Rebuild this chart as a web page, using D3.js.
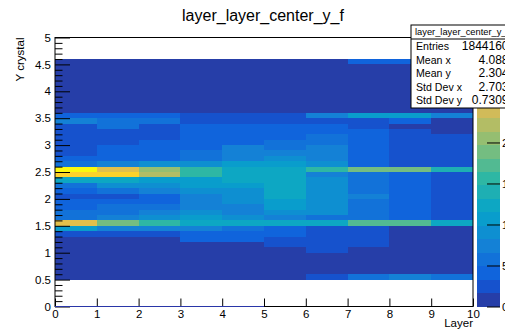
<!DOCTYPE html>
<html>
<head>
<meta charset="utf-8">
<script src="https://cdn.jsdelivr.net/npm/d3@7"></script>
<style>
  html, body { margin: 0; padding: 0; background: #fff; overflow: hidden; }
  svg { display: block; font-family: "Liberation Sans", Arial, Helvetica, sans-serif; }
</style>
</head>
<body>
<svg id="chart" width="505" height="330"></svg>
<script>
// ---- histogram binning ----
const layers = [0, 1, 2, 3, 4, 5, 6, 7, 8, 9];
const yBinLow = [0.5, 0.6, 0.7, 0.8, 0.9, 1.0, 1.1, 1.2, 1.3, 1.4,
                 1.5, 1.6, 1.7, 1.8, 1.9, 2.0, 2.1, 2.2, 2.3, 2.4,
                 2.5, 2.6, 2.7, 2.8, 2.9, 3.0, 3.1, 3.2, 3.3, 3.4,
                 3.5, 3.6, 3.7, 3.8, 3.9, 4.0, 4.1, 4.2, 4.3, 4.4, 4.5];
const yBinWidth = 0.1;

// ---- bin contents per layer, listed from the y = 0.5 bin upward ----
const layer0 = [620, 840, 910, 1030, 1150, 1210, 1290, 1370, 2480, 10650, 25400, 5820, 5630, 4150, 3960, 2700, 4060, 5480, 12200, 28800, 32800, 5650, 4020, 2910, 2640, 2580, 2450, 2520, 2690, 7380, 4230, 1420, 1210, 980, 870, 760, 690, 620, 560, 510, 470];
const layer1 = [700, 880, 960, 1060, 1180, 1250, 1330, 1410, 2550, 7300, 18900, 7450, 5780, 5550, 4300, 3050, 5520, 9050, 12100, 28400, 25300, 7200, 4400, 4180, 3900, 2880, 2620, 2750, 5300, 5600, 4050, 1380, 1190, 990, 880, 790, 710, 650, 580, 530, 480];
const layer2 = [720, 900, 990, 1090, 1200, 1280, 1350, 1430, 2600, 7400, 15700, 9100, 7350, 5650, 4200, 3900, 7250, 9150, 10800, 22200, 20600, 8900, 4350, 4150, 3700, 3500, 2900, 2800, 2700, 5400, 4000, 1350, 1170, 970, 860, 780, 700, 640, 570, 520, 470];
const layer3 = [760, 930, 1020, 1120, 1240, 1310, 1400, 3650, 3900, 7500, 12300, 10900, 9200, 7600, 7450, 7300, 9050, 10700, 10900, 15600, 15500, 9000, 5700, 5500, 4200, 4100, 3950, 3850, 3700, 2650, 2500, 1320, 1150, 960, 850, 770, 690, 630, 560, 510, 460];
const layer4 = [780, 950, 1040, 1140, 1260, 1330, 1420, 3600, 3850, 5800, 12500, 9200, 7700, 7500, 9100, 9000, 8900, 10800, 12200, 12400, 12300, 10600, 7400, 7300, 7200, 4300, 4100, 3950, 3800, 2600, 2450, 1300, 1130, 950, 840, 760, 690, 620, 550, 500, 450];
const layer5 = [820, 980, 1080, 1180, 1300, 1450, 2300, 2700, 3700, 4100, 12200, 7600, 9300, 10600, 10900, 12000, 12300, 12400, 12500, 12200, 12100, 10800, 9100, 7300, 5800, 5600, 4300, 4100, 3800, 2700, 2500, 1280, 1120, 940, 830, 750, 680, 610, 540, 490, 440];
const layer6 = [2100, 1100, 1240, 1350, 1500, 1900, 2200, 2400, 2600, 2900, 12000, 5700, 9000, 9100, 9200, 9300, 9100, 9000, 8900, 7500, 15800, 8800, 7400, 7300, 7200, 5800, 5600, 4300, 4100, 2600, 7300, 1250, 1100, 930, 820, 740, 670, 600, 530, 480, 430];
const layer7 = [5600, 1050, 1180, 1300, 1450, 1560, 2300, 2500, 2700, 2900, 17300, 5700, 5800, 5900, 5800, 7300, 6000, 5900, 5800, 5600, 19000, 4300, 4200, 4100, 4000, 3900, 3850, 3800, 2800, 2700, 10800, 1200, 1060, 900, 800, 720, 650, 590, 530, 480, 3600];
const layer8 = [7400, 980, 1100, 1200, 1320, 1400, 1480, 1540, 1580, 1600, 17100, 4100, 4200, 4300, 4350, 4300, 4250, 4200, 4150, 4000, 18800, 2900, 2800, 2750, 2700, 2650, 2600, 2500, 1500, 3500, 10700, 1150, 1020, 880, 780, 700, 640, 580, 520, 470, 3500];
const layer9 = [5500, 950, 1080, 1190, 1300, 1390, 1460, 1520, 1570, 1590, 12400, 2700, 2750, 2800, 2850, 2800, 2750, 2700, 2650, 2600, 14000, 2500, 2450, 2400, 2350, 2300, 2250, 1500, 1400, 1300, 7200, 1100, 990, 860, 760, 690, 630, 570, 510, 460, 3400];
const layerCounts = [layer0, layer1, layer2, layer3, layer4, layer5, layer6, layer7, layer8, layer9];

// ---- axes ----
const xTicks = [0, 1, 2, 3, 4, 5, 6, 7, 8, 9, 10];
const yMajorTicks = [0, 0.5, 1, 1.5, 2, 2.5, 3, 3.5, 4, 4.5, 5];
const yMinorTicks = [0.1, 0.2, 0.3, 0.4, 0.6, 0.7, 0.8, 0.9, 1.1, 1.2, 1.3, 1.4, 1.6, 1.7, 1.8, 1.9,
                     2.1, 2.2, 2.3, 2.4, 2.6, 2.7, 2.8, 2.9, 3.1, 3.2, 3.3, 3.4, 3.6, 3.7, 3.8, 3.9,
                     4.1, 4.2, 4.3, 4.4, 4.6, 4.7, 4.8, 4.9];
const zTicks = [0, 5000, 10000, 15000, 20000];
const zTickLabels = ["0", "5", "10", "15", "20"];

// ---- statistics box ----
const statTitle = "layer_layer_center_y_f";
const statNames = ["Entries", "Mean x", "Mean y", "Std Dev x", "Std Dev y"];
const statValues = ["1844160", "4.088", "2.304", "2.703", "0.7309"];

// ---- kBird colour palette (gradient stops) ----
const birdStops = [0.0000, 0.1250, 0.2500, 0.3750, 0.5000, 0.6250, 0.7500, 0.8750, 1.0000];
const birdRed   = [0.2082, 0.0592, 0.0780, 0.0232, 0.1802, 0.5301, 0.8186, 0.9956, 0.9764];
const birdGreen = [0.1664, 0.3599, 0.5041, 0.6419, 0.7178, 0.7492, 0.7328, 0.7862, 0.9832];
const birdBlue  = [0.5293, 0.8684, 0.8385, 0.7914, 0.6425, 0.4662, 0.3499, 0.1968, 0.0539];

const nColors = 255;
const nContours = 20;
const zMin = 0;
const zMax = d3.max(layerCounts, c => d3.max(c));

// gradient table built segment by segment
const palette = [];
for (let g = 1; g < birdStops.length; g++) {
  const n = Math.floor(birdStops[g] * nColors) - Math.floor(birdStops[g - 1] * nColors);
  for (let c = 0; c < n; c++) {
    const r = birdRed[g - 1] + c * (birdRed[g] - birdRed[g - 1]) / n;
    const gg = birdGreen[g - 1] + c * (birdGreen[g] - birdGreen[g - 1]) / n;
    const b = birdBlue[g - 1] + c * (birdBlue[g] - birdBlue[g - 1]) / n;
    palette.push(d3.rgb(Math.round(r * 255), Math.round(gg * 255), Math.round(b * 255)).toString());
  }
}
function contourColor(level) {
  let idx = Math.floor((level + 0.99) * nColors / nContours);
  if (idx > nColors - 1) idx = nColors - 1;
  return palette[idx];
}
function valueColor(v) {
  const level = Math.floor(0.01 + (v - zMin) * nContours / (zMax - zMin));
  return contourColor(level);
}

// ---- layout ----
const svg = d3.select("#chart");
const frame = { left: 55, right: 473, top: 37.5, bottom: 306.5 };
const x = d3.scaleLinear().domain([0, 10]).range([frame.left, frame.right]);
const y = d3.scaleLinear().domain([0, 5]).range([frame.bottom, frame.top]);
const z = d3.scaleLinear().domain([zMin, zMax]).range([frame.bottom, frame.top]);

// cells
const cells = [];
layers.forEach((lx, i) => {
  yBinLow.forEach((yl, j) => {
    const v = layerCounts[i][j];
    if (v > 0) cells.push({ lx, yl, v });
  });
});
svg.append("g")
  .attr("shape-rendering", "crispEdges")
  .selectAll("rect")
  .data(cells)
  .join("rect")
  .attr("x", d => x(d.lx))
  .attr("y", d => y(d.yl + yBinWidth))
  .attr("width", d => x(d.lx + 1) - x(d.lx))
  .attr("height", d => y(d.yl) - y(d.yl + yBinWidth))
  .attr("fill", d => valueColor(d.v));

// x axis (ticks point into the frame)
const xAxis = d3.axisBottom(x).tickValues(xTicks).tickFormat(d3.format("d"))
  .tickSizeInner(-8).tickSizeOuter(0).tickPadding(3);
const gx = svg.append("g").attr("transform", `translate(0,${frame.bottom})`).call(xAxis);
gx.select(".domain").remove();
gx.selectAll("text").attr("font-size", 11.5).attr("fill", "#000");

// y axis, major and minor ticks
const yAxis = d3.axisLeft(y).tickValues(yMajorTicks).tickFormat(d3.format("~g"))
  .tickSizeInner(-15).tickSizeOuter(0).tickPadding(4);
const gy = svg.append("g").attr("transform", `translate(${frame.left},0)`).call(yAxis);
gy.select(".domain").remove();
gy.selectAll("text").attr("font-size", 11.5).attr("fill", "#000");
const yMinor = d3.axisLeft(y).tickValues(yMinorTicks).tickFormat("")
  .tickSizeInner(-7.5).tickSizeOuter(0);
const gym = svg.append("g").attr("transform", `translate(${frame.left},0)`).call(yMinor);
gym.select(".domain").remove();

// frame
svg.append("rect")
  .attr("x", frame.left).attr("y", frame.top)
  .attr("width", frame.right - frame.left).attr("height", frame.bottom - frame.top)
  .attr("fill", "none").attr("stroke", "#000").attr("stroke-width", 1);
svg.append("line")
  .attr("x1", x(0)).attr("x2", x(5)).attr("y1", frame.bottom).attr("y2", frame.bottom)
  .attr("stroke", "#2a36a8").attr("stroke-width", 1.2);

// colour palette bar
const pal = { left: 477, right: 500 };
const levels = d3.range(nContours);
svg.append("g").attr("shape-rendering", "crispEdges")
  .selectAll("rect").data(levels).join("rect")
  .attr("x", pal.left)
  .attr("width", pal.right - pal.left)
  .attr("y", l => z(zMin + (l + 1) * (zMax - zMin) / nContours))
  .attr("height", l => z(zMin + l * (zMax - zMin) / nContours) - z(zMin + (l + 1) * (zMax - zMin) / nContours))
  .attr("fill", l => contourColor(l));
const zAxis = d3.axisRight(z).tickValues(zTicks).tickFormat((d, i) => zTickLabels[i])
  .tickSizeInner(-13).tickSizeOuter(0).tickPadding(2);
const gz = svg.append("g").attr("transform", `translate(${pal.right},0)`).call(zAxis);
gz.select(".domain").remove();
gz.selectAll("text").attr("font-size", 11.5).attr("fill", "#000");

// titles
svg.append("text")
  .attr("x", 263).attr("y", 21)
  .attr("text-anchor", "middle").attr("font-size", 16).attr("fill", "#000")
  .text("layer_layer_center_y_f");
svg.append("text")
  .attr("transform", `translate(24,${frame.top}) rotate(-90)`)
  .attr("text-anchor", "end").attr("font-size", 11.5).attr("fill", "#000")
  .text("Y crystal");
svg.append("text")
  .attr("x", frame.right).attr("y", 327)
  .attr("text-anchor", "end").attr("font-size", 11.5).attr("fill", "#000")
  .text("Layer");

// statistics box
const sb = { left: 411, top: 25, right: 512, bottom: 108, header: 39 };
const gs = svg.append("g");
gs.append("rect")
  .attr("x", sb.left).attr("y", sb.top)
  .attr("width", sb.right - sb.left).attr("height", sb.bottom - sb.top)
  .attr("fill", "#fff").attr("stroke", "#000").attr("stroke-width", 1);
gs.append("line")
  .attr("x1", sb.left).attr("x2", sb.right).attr("y1", sb.header).attr("y2", sb.header)
  .attr("stroke", "#000").attr("stroke-width", 1);
gs.append("text")
  .attr("x", sb.left + 4).attr("y", 35)
  .attr("font-size", 9.3).attr("fill", "#000")
  .text(statTitle);
const rowY = d3.scaleLinear().domain([0, statNames.length - 1]).range([50, 104]);
statNames.forEach((name, i) => {
  gs.append("text").attr("x", sb.left + 5).attr("y", rowY(i))
    .attr("font-size", 10.6).attr("fill", "#000").text(name);
  gs.append("text").attr("x", 508.5).attr("y", rowY(i))
    .attr("text-anchor", "end").attr("font-size", 12).attr("fill", "#000").text(statValues[i]);
});
</script>
</body>
</html>
